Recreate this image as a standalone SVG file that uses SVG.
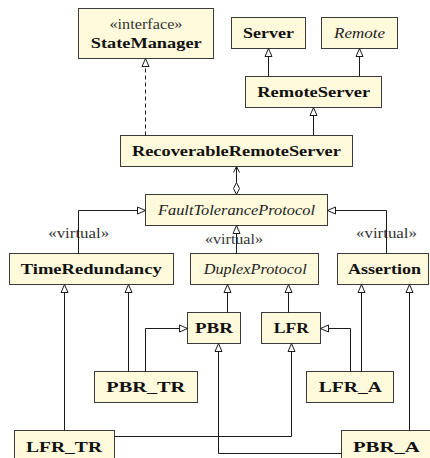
<svg xmlns="http://www.w3.org/2000/svg" width="430" height="458" viewBox="0 0 430 458">
  <style>
    .box { fill: #fffadc; stroke: #3a3a3a; stroke-width: 1; }
    text { font-family: "Liberation Serif", "Times New Roman", Times, serif; fill: #111; text-anchor: middle; }
    .name { font-size: 15px; font-weight: bold; }
    .abs { font-size: 15px; font-style: italic; fill: #222; }
    .stereo { font-size: 14px; fill: #333; }
    .edge { fill: none; stroke: #1a1a1a; stroke-width: 1; }
    .gen { marker-end: url(#tri); }
    .dash { stroke-dasharray: 4 3; }
  </style>
  <defs>
    <!-- hollow triangle for generalisation / realisation -->
    <marker id="tri" viewBox="-9 -5 10 10" refX="0" refY="0" markerWidth="10" markerHeight="10" markerUnits="userSpaceOnUse" orient="auto">
      <path d="M-8,-3.5 L0,0 L-8,3.5 Z" fill="#fff" stroke="#1a1a1a" stroke-width="1"/>
    </marker>
    <!-- hollow diamond for aggregation -->
    <marker id="dia" viewBox="-1 -5 14 10" refX="0" refY="0" markerWidth="14" markerHeight="10" markerUnits="userSpaceOnUse" orient="auto">
      <path d="M0,0 L6,-3 L12,0 L6,3 Z" fill="#fff" stroke="#1a1a1a" stroke-width="1"/>
    </marker>
    <!-- open navigability arrow -->
    <marker id="open" viewBox="-8 -5 10 10" refX="0" refY="0" markerWidth="10" markerHeight="10" markerUnits="userSpaceOnUse" orient="auto">
      <path d="M-6,-3 L0,0 L-6,3" fill="none" stroke="#1a1a1a" stroke-width="1"/>
    </marker>
  </defs>

  <g id="StateManager">
    <rect class="box" x="78.5" y="8.5" width="135" height="50"/>
    <text class="stereo" x="146" y="28.5" textLength="73" lengthAdjust="spacingAndGlyphs">«interface»</text>
    <text class="name" x="146.2" y="47.5" textLength="111" lengthAdjust="spacingAndGlyphs">StateManager</text>
  </g>
  <g id="Server">
    <rect class="box" x="231.5" y="17.5" width="74" height="31"/>
    <text class="name" x="268.4" y="37.5" textLength="51" lengthAdjust="spacingAndGlyphs">Server</text>
  </g>
  <g id="Remote">
    <rect class="box" x="321.5" y="17.5" width="76" height="31"/>
    <text class="abs" x="359.5" y="37.5" textLength="51" lengthAdjust="spacingAndGlyphs">Remote</text>
  </g>
  <g id="RemoteServer">
    <rect class="box" x="245.5" y="76.5" width="136" height="31"/>
    <text class="name" x="313.7" y="96.5" textLength="113" lengthAdjust="spacingAndGlyphs">RemoteServer</text>
  </g>
  <g id="RecoverableRemoteServer">
    <rect class="box" x="120.5" y="135.5" width="232" height="31"/>
    <text class="name" x="236.4" y="155.5" textLength="209" lengthAdjust="spacingAndGlyphs">RecoverableRemoteServer</text>
  </g>
  <g id="FaultToleranceProtocol">
    <rect class="box" x="145.5" y="194.5" width="182" height="31"/>
    <text class="abs" x="236.5" y="214.5" textLength="157" lengthAdjust="spacingAndGlyphs">FaultToleranceProtocol</text>
  </g>
  <g id="TimeRedundancy">
    <rect class="box" x="9.5" y="253.5" width="164" height="31"/>
    <text class="name" x="91.2" y="273.5" textLength="141" lengthAdjust="spacingAndGlyphs">TimeRedundancy</text>
  </g>
  <g id="DuplexProtocol">
    <rect class="box" x="190.5" y="253.5" width="128" height="31"/>
    <text class="abs" x="255.2" y="273.5" textLength="103" lengthAdjust="spacingAndGlyphs">DuplexProtocol</text>
  </g>
  <g id="Assertion">
    <rect class="box" x="337.5" y="253.5" width="91" height="31"/>
    <text class="name" x="384.5" y="273.5" textLength="73" lengthAdjust="spacingAndGlyphs">Assertion</text>
  </g>
  <g id="PBR">
    <rect class="box" x="187.5" y="312.5" width="53" height="31"/>
    <text class="name" x="214" y="332.5" textLength="38" lengthAdjust="spacingAndGlyphs">PBR</text>
  </g>
  <g id="LFR">
    <rect class="box" x="261.5" y="312.5" width="59" height="31"/>
    <text class="name" x="291.3" y="332.5" textLength="35" lengthAdjust="spacingAndGlyphs">LFR</text>
  </g>
  <g id="PBR_TR">
    <rect class="box" x="94.5" y="371.5" width="103" height="31"/>
    <text class="name" x="145.8" y="391.5" textLength="79" lengthAdjust="spacingAndGlyphs">PBR_TR</text>
  </g>
  <g id="LFR_A">
    <rect class="box" x="306.5" y="371.5" width="87" height="31"/>
    <text class="name" x="350.3" y="391.5" textLength="63" lengthAdjust="spacingAndGlyphs">LFR_A</text>
  </g>
  <g id="LFR_TR">
    <rect class="box" x="14.5" y="430.5" width="100" height="31"/>
    <text class="name" x="64" y="451.5" textLength="76" lengthAdjust="spacingAndGlyphs">LFR_TR</text>
  </g>
  <g id="PBR_A">
    <rect class="box" x="341.5" y="430.5" width="100" height="31"/>
    <text class="name" x="386.4" y="451.5" textLength="67" lengthAdjust="spacingAndGlyphs">PBR_A</text>
  </g>

  <g id="connectors">
    <text class="stereo" x="78.7" y="237.5" textLength="61" lengthAdjust="spacingAndGlyphs">«virtual»</text>
    <text class="stereo" x="234" y="243.5" textLength="58" lengthAdjust="spacingAndGlyphs">«virtual»</text>
    <text class="stereo" x="386.5" y="237.5" textLength="61" lengthAdjust="spacingAndGlyphs">«virtual»</text>

    <path class="edge gen dash" d="M145.5,135.5 V58.5"/>
    <path class="edge gen" d="M268.5,76.5 V48.5"/>
    <path class="edge gen" d="M359.5,76.5 V48.5"/>
    <path class="edge gen" d="M313.5,135.5 V107.5"/>
    <path class="edge" d="M236.5,194.5 V166.5" marker-start="url(#dia)" marker-end="url(#open)"/>
    <path class="edge gen" d="M78.5,253.5 V210.5 H145.5"/>
    <path class="edge gen" d="M236.5,253.5 V225.5"/>
    <path class="edge gen" d="M386.5,253.5 V210.5 H327.5"/>
    <path class="edge gen" d="M227.5,312.5 V284.5"/>
    <path class="edge gen" d="M288.5,312.5 V284.5"/>
    <path class="edge gen" d="M128.5,371.5 V284.5"/>
    <path class="edge gen" d="M64.5,430.5 V284.5"/>
    <path class="edge gen" d="M145.5,371.5 V328.5 H187.5"/>
    <path class="edge gen" d="M361.5,371.5 V284.5"/>
    <path class="edge gen" d="M409.5,430.5 V284.5"/>
    <path class="edge gen" d="M350.5,371.5 V328.5 H320.5"/>
    <path class="edge gen" d="M341.5,453.5 H218.5 V343.5"/>
    <path class="edge gen" d="M114.5,436.5 H291.5 V343.5"/>
  </g>
</svg>
